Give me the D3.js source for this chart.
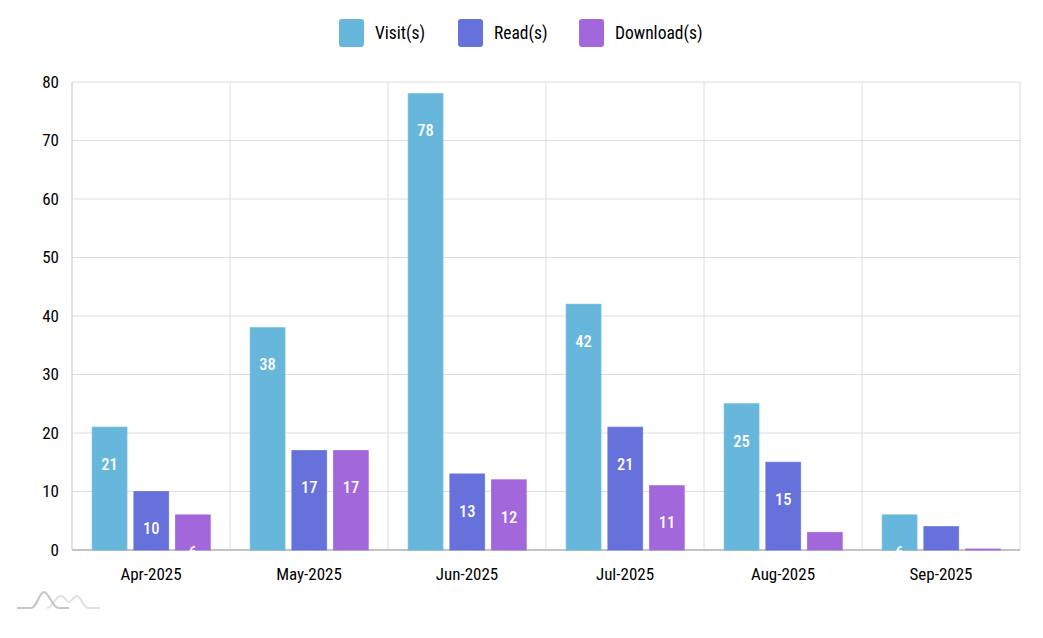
<!DOCTYPE html>
<html>
<head>
<meta charset="utf-8">
<script src="https://cdn.jsdelivr.net/npm/d3@7"></script>
<style>
  body { margin: 0; background: #fff; }
  svg text { font-family: "Roboto Condensed", "Liberation Sans Narrow", Roboto, sans-serif; }
</style>
</head>
<body>
<svg id="chart" width="1043" height="638"></svg>
<script>
const months = ["Apr-2025", "May-2025", "Jun-2025", "Jul-2025", "Aug-2025", "Sep-2025"];
const visits = [21, 38, 78, 42, 25, 6];
const reads = [10, 17, 13, 21, 15, 4];
const downloads = [6, 17, 12, 11, 3, 0];
const seriesNames = ["Visit(s)", "Read(s)", "Download(s)"];
const seriesColors = ["#67b7dc", "#6771dc", "#a367dc"];
const yTicks = [0, 10, 20, 30, 40, 50, 60, 70, 80];

const series = [visits, reads, downloads];

const svg = d3.select("#chart");
let margins = { top: 82, right: 23, bottom: 88, left: 72 };
let width = 1043 - margins.left - margins.right;
let height = 638 - margins.top - margins.bottom;

const g = svg.append("g").attr("transform", `translate(${margins.left},${margins.top})`);

// scales
const x = d3.scaleBand().domain(months).range([0, width]).padding(0);
const inner = d3.scaleBand()
  .domain(d3.range(3))
  .range([x.bandwidth() * 0.128, x.bandwidth() * 0.875])
  .paddingInner(0.167)
  .paddingOuter(0);
const y = d3.scaleLinear().domain([0, 80]).range([height, 0]);

// grid
g.append("g")
  .selectAll("line")
  .data(yTicks)
  .enter()
  .append("line")
  .attr("x1", 0)
  .attr("x2", width)
  .attr("y1", (d) => y(d))
  .attr("y2", (d) => y(d))
  .attr("stroke", "#dedede");

g.append("g")
  .selectAll("line")
  .data(months.map((m) => x(m)).concat([width]))
  .enter()
  .append("line")
  .attr("x1", (d) => d)
  .attr("x2", (d) => d)
  .attr("y1", 0)
  .attr("y2", height)
  .attr("stroke", "#dcdcdc");

// axis lines
g.append("line")
  .attr("x1", 0).attr("x2", width)
  .attr("y1", height).attr("y2", height)
  .attr("stroke", "#999");
g.append("line")
  .attr("x1", 0).attr("x2", 0)
  .attr("y1", 0).attr("y2", height)
  .attr("stroke", "#d6d6d6");

// clip (a touch below baseline so zero columns show their stroke)
svg.append("defs").append("clipPath").attr("id", "plot")
  .append("rect").attr("width", width).attr("height", height + 1);

const bars = g.append("g").attr("clip-path", "url(#plot)");

series.forEach((vals, si) => {
  const grp = bars.append("g");
  grp.selectAll("rect")
    .data(vals)
    .enter()
    .append("rect")
    .attr("x", (d, i) => x(months[i]) + inner(si))
    .attr("width", inner.bandwidth())
    .attr("y", (d) => y(d) - (d === 0 ? 1 : 0))
    .attr("height", (d) => Math.max(y(0) - y(d), 1))
    .attr("fill", seriesColors[si])
    .attr("stroke", seriesColors[si])
    .attr("stroke-opacity", 0.8);

  // value labels sit 37px under the column top, clipped at the baseline
  grp.selectAll("text")
    .data(vals)
    .enter()
    .filter((d) => d > 0)
    .append("text")
    .attr("x", (d, i) => x(months[i]) + inner(si) + inner.bandwidth() / 2)
    .attr("y", (d) => y(d) + 37)
    .attr("dy", "0.35em")
    .attr("text-anchor", "middle")
    .attr("fill", "#fff")
    .attr("font-size", "16.5px")
    .attr("font-weight", "500")
    .text((d) => d);
});

// y labels
g.append("g")
  .selectAll("text")
  .data(yTicks)
  .enter()
  .append("text")
  .attr("x", -13)
  .attr("y", (d) => y(d))
  .attr("dy", "0.35em")
  .attr("text-anchor", "end")
  .attr("font-size", "17px")
  .attr("fill", "#000")
  .text((d) => d);

// x labels
g.append("g")
  .selectAll("text")
  .data(months)
  .enter()
  .append("text")
  .attr("x", (d) => x(d) + x.bandwidth() / 2)
  .attr("y", height + 24)
  .attr("dy", "0.35em")
  .attr("text-anchor", "middle")
  .attr("font-size", "17px")
  .attr("fill", "#000")
  .text((d) => d);

// legend
const legendX = [339, 458, 579];
const legend = svg.selectAll(".legend")
  .data(seriesNames)
  .enter()
  .append("g")
  .attr("class", "legend")
  .attr("transform", (d, i) => `translate(${legendX[i]}, 19)`);

legend.append("rect")
  .attr("width", 25)
  .attr("height", 28)
  .attr("rx", 3)
  .attr("fill", (d, i) => seriesColors[i]);

legend.append("text")
  .attr("x", 36)
  .attr("y", 14)
  .attr("dy", "0.35em")
  .attr("font-size", "17.5px")
  .attr("fill", "#000")
  .text((d) => d);

// little logo bottom-left
const logo = svg.append("g").attr("transform", "translate(17,592)").attr("fill", "none").attr("stroke-width", 2.2);
logo.append("path").attr("d", "M30,16 C36,16 38,4 44,4 C48,4 49,10 52,10 C55,10 56,4 60,4 C64,4 66,16 72,16 L83,16").attr("stroke", "#e2e2e2");
logo.append("path").attr("d", "M0,16 L14,16 C20,16 22,0 27,0 C32,0 35,16 42,16 L52,16").attr("stroke", "#c6c6c6");
</script>
</body>
</html>
